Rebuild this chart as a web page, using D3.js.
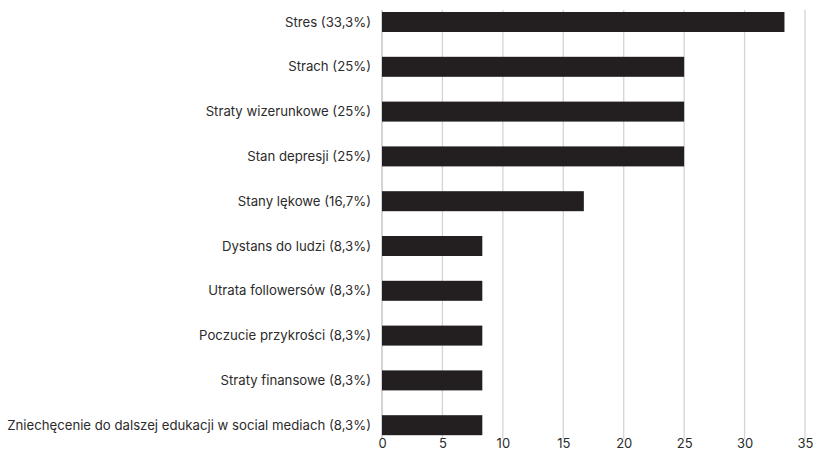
<!DOCTYPE html>
<html>
<head>
<meta charset="utf-8">
<script src="https://cdn.jsdelivr.net/npm/d3@7"></script>
<style>
  html, body { margin: 0; padding: 0; background: #fff; overflow: hidden; }
  svg { display: block; }
  text { font-family: Inter, "Open Sans", sans-serif; fill: #2b2b2b; }
</style>
</head>
<body>
<svg id="chart" width="813" height="452"></svg>
<script>
// Effects named by respondents, with their share in percent
const categories = [
  "Stres",
  "Strach",
  "Straty wizerunkowe",
  "Stan depresji",
  "Stany lękowe",
  "Dystans do ludzi",
  "Utrata followersów",
  "Poczucie przykrości",
  "Straty finansowe",
  "Zniechęcenie do dalszej edukacji w social mediach"
];
const values = [33.3, 25, 25, 25, 16.7, 8.3, 8.3, 8.3, 8.3, 8.3];
const xTicks = [0, 5, 10, 15, 20, 25, 30, 35];

const fmt = v => String(v).replace(".", ",") + "%";
const labels = categories.map((c, i) => `${c} (${fmt(values[i])})`);

const svg = d3.select("#chart");
const x0 = 382, x1 = 805;

const x = d3.scaleLinear().domain([0, 35]).range([x0, x1]);
const y = d3.scaleBand()
  .domain(labels)
  .range([-0.4, 447.6])
  .paddingInner(0.5536)
  .paddingOuter(0.2768);

// vertical grid lines
svg.append("g")
  .selectAll("line")
  .data(xTicks)
  .join("line")
  .attr("x1", d => x(d)).attr("x2", d => x(d))
  .attr("y1", 10).attr("y2", 439)
  .attr("stroke", d => d === 0 ? "#bdbdbd" : "#d4d4d4")
  .attr("stroke-width", 1.3);

// bars
svg.append("g")
  .selectAll("rect")
  .data(values)
  .join("rect")
  .attr("x", x(0))
  .attr("y", (d, i) => y(labels[i]))
  .attr("width", d => x(d) - x(0))
  .attr("height", y.bandwidth())
  .attr("fill", "#231f20");

// category labels
svg.append("g")
  .selectAll("text")
  .data(labels)
  .join("text")
  .attr("x", 371)
  .attr("y", d => y(d) + y.bandwidth() / 2)
  .attr("dy", "0.35em")
  .attr("text-anchor", "end")
  .attr("font-size", 13.2)
  .text(d => d);

// x axis tick labels, baseline kept just inside the bottom edge
const axis = d3.axisBottom(x).tickValues(xTicks).tickSize(0).tickPadding(0);
const g = svg.append("g").attr("transform", "translate(0,448)").call(axis);
g.select(".domain").remove();
g.selectAll("text")
  .attr("font-size", 13)
  .attr("y", 0)
  .attr("dy", 0)
  .style("font-family", "Inter, 'Open Sans', sans-serif")
  .attr("fill", "#2b2b2b");
</script>
</body>
</html>
